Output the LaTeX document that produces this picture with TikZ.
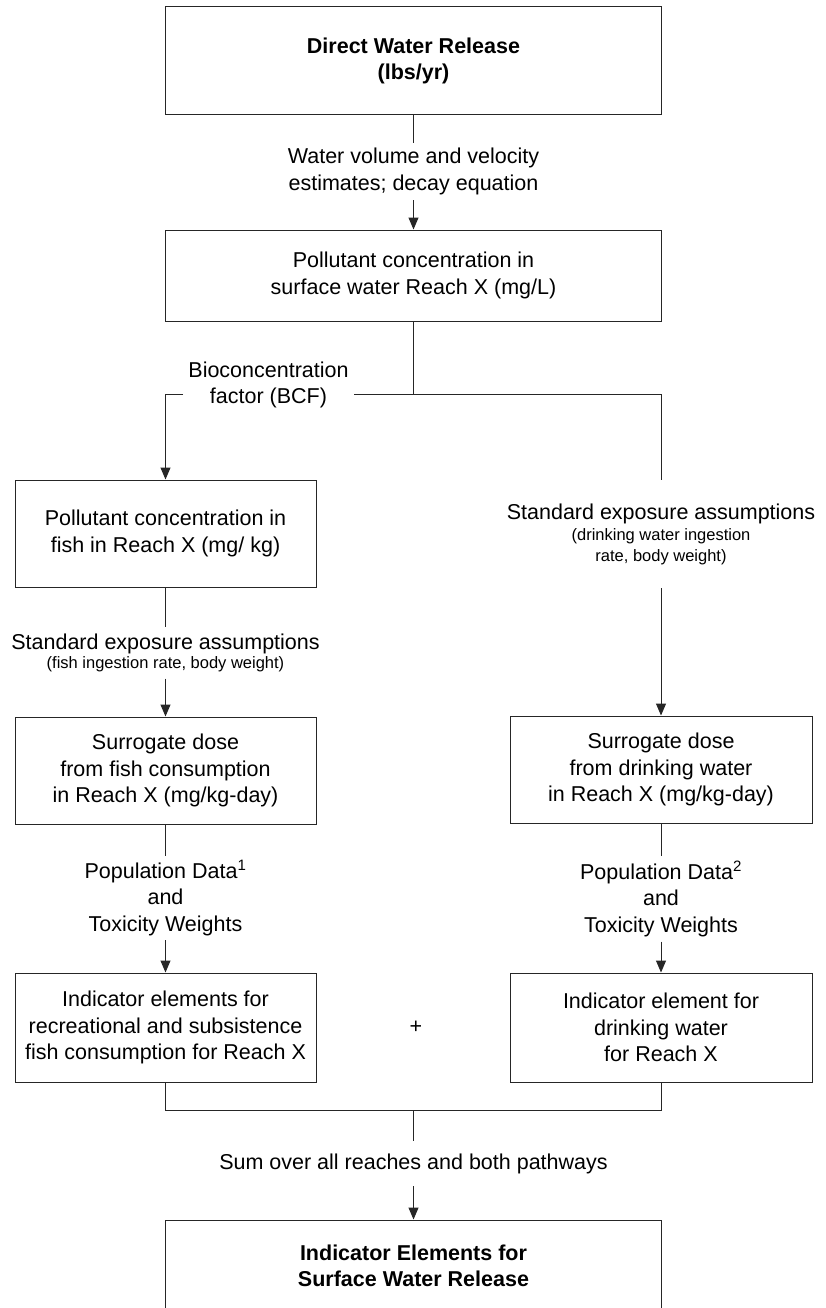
\documentclass[tikz,border=0pt]{standalone}
\usepackage{fontspec}
\setmainfont{Liberation Sans}
\usetikzlibrary{arrows.meta,positioning}
\newcommand{\bigtxt}{\fontsize{21.5}{26.5}\selectfont}
\newcommand{\smalltxt}{\fontsize{16.5}{20}\selectfont}
\begin{document}
\begin{tikzpicture}[x=1pt,y=-1pt,
  box/.style={draw=black!85, line width=1pt, align=center, inner sep=0pt, font=\bigtxt},
  lbl/.style={align=center, inner sep=0pt, font=\bigtxt},
  con/.style={draw=black!85, line width=1pt},
  arr/.style={con, -{Triangle[length=12pt,width=10pt]}}]
\useasboundingbox (0,0) rectangle (825,1308);
\clip (0,0) rectangle (825,1308);
% main column boxes
\node[box, minimum width=496pt, minimum height=108pt] (top) at (413.5,61) {\textbf{Direct Water Release}\\\textbf{(lbs/yr)}};
\node[lbl, minimum height=57pt] (l1) at (413.5,171.5) {Water volume and velocity\\estimates; decay equation};
\node[box, minimum width=496pt, minimum height=91pt] (conc) at (413.5,275.5) {Pollutant concentration in\\surface water Reach X (mg/L)};
\coordinate (br) at (413.5,394);
\node[lbl, fill=white, inner xsep=5pt, inner ysep=4pt] (bcf) at (268.5,385) {Bioconcentration\\factor (BCF)};
% left column
\node[box, minimum width=301pt, minimum height=107pt] (fish) at (165.5,533.5) {Pollutant concentration in\\fish in Reach X (mg/ kg)};
\node[lbl, minimum height=51pt] (l2) at (165.5,653) {Standard exposure assumptions\\[-7pt]{\smalltxt(fish ingestion rate, body weight)}};
\node[box, minimum width=301pt, minimum height=107pt] (sfish) at (165.5,770.5) {Surrogate dose\\from fish consumption\\in Reach X (mg/kg-day)};
\node[lbl, minimum height=84pt] (l4) at (165.5,898) {Population Data\textsuperscript{1}\\and\\Toxicity Weights};
\node[box, minimum width=301pt, minimum height=109pt] (ifish) at (165.5,1027.5) {Indicator elements for\\recreational and subsistence\\fish consumption for Reach X};
% right column
\node[lbl, minimum height=108pt] (l3) at (661,534) {Standard exposure assumptions\\[-5pt]{\smalltxt(drinking water ingestion}\\[-6pt]{\smalltxt rate, body weight)}};
\node[box, minimum width=302pt, minimum height=107pt] (swater) at (661,769.5) {Surrogate dose\\from drinking water\\in Reach X (mg/kg-day)};
\node[lbl, minimum height=85pt] (l5) at (661,899) {Population Data\textsuperscript{2}\\and\\Toxicity Weights};
\node[box, minimum width=302pt, minimum height=109pt] (iwater) at (661,1027.5) {Indicator element for\\drinking water\\for Reach X};
\node[lbl] (plus) at (416,1027) {+};
% bottom
\coordinate (j) at (413.5,1110);
\node[lbl, minimum height=45pt] (l6) at (413.5,1163.5) {Sum over all reaches and both pathways};
\node[box, minimum width=496pt, minimum height=92pt] (final) at (413.5,1266) {\textbf{Indicator Elements for}\\\textbf{Surface Water Release}};
% connectors
\draw[con] (top) -- (l1);
\draw[arr] (l1) -- (conc);
\draw[con] (conc) -- (br);
\draw[con] (br) -- (bcf.east |- br);
\draw[arr] (bcf.west |- br) -| (fish.north);
\draw[con] (br) -| (l3.north);
\draw[arr] (l3) -- (swater);
\draw[con] (fish) -- (l2);
\draw[arr] (l2) -- (sfish);
\draw[con] (sfish) -- (l4);
\draw[arr] (l4) -- (ifish);
\draw[con] (swater) -- (l5);
\draw[arr] (l5) -- (iwater);
\draw[con] (ifish.south) |- (j) -| (iwater.south);
\draw[con] (j) -- (l6);
\draw[arr] (l6) -- (final);
\end{tikzpicture}
\end{document}
